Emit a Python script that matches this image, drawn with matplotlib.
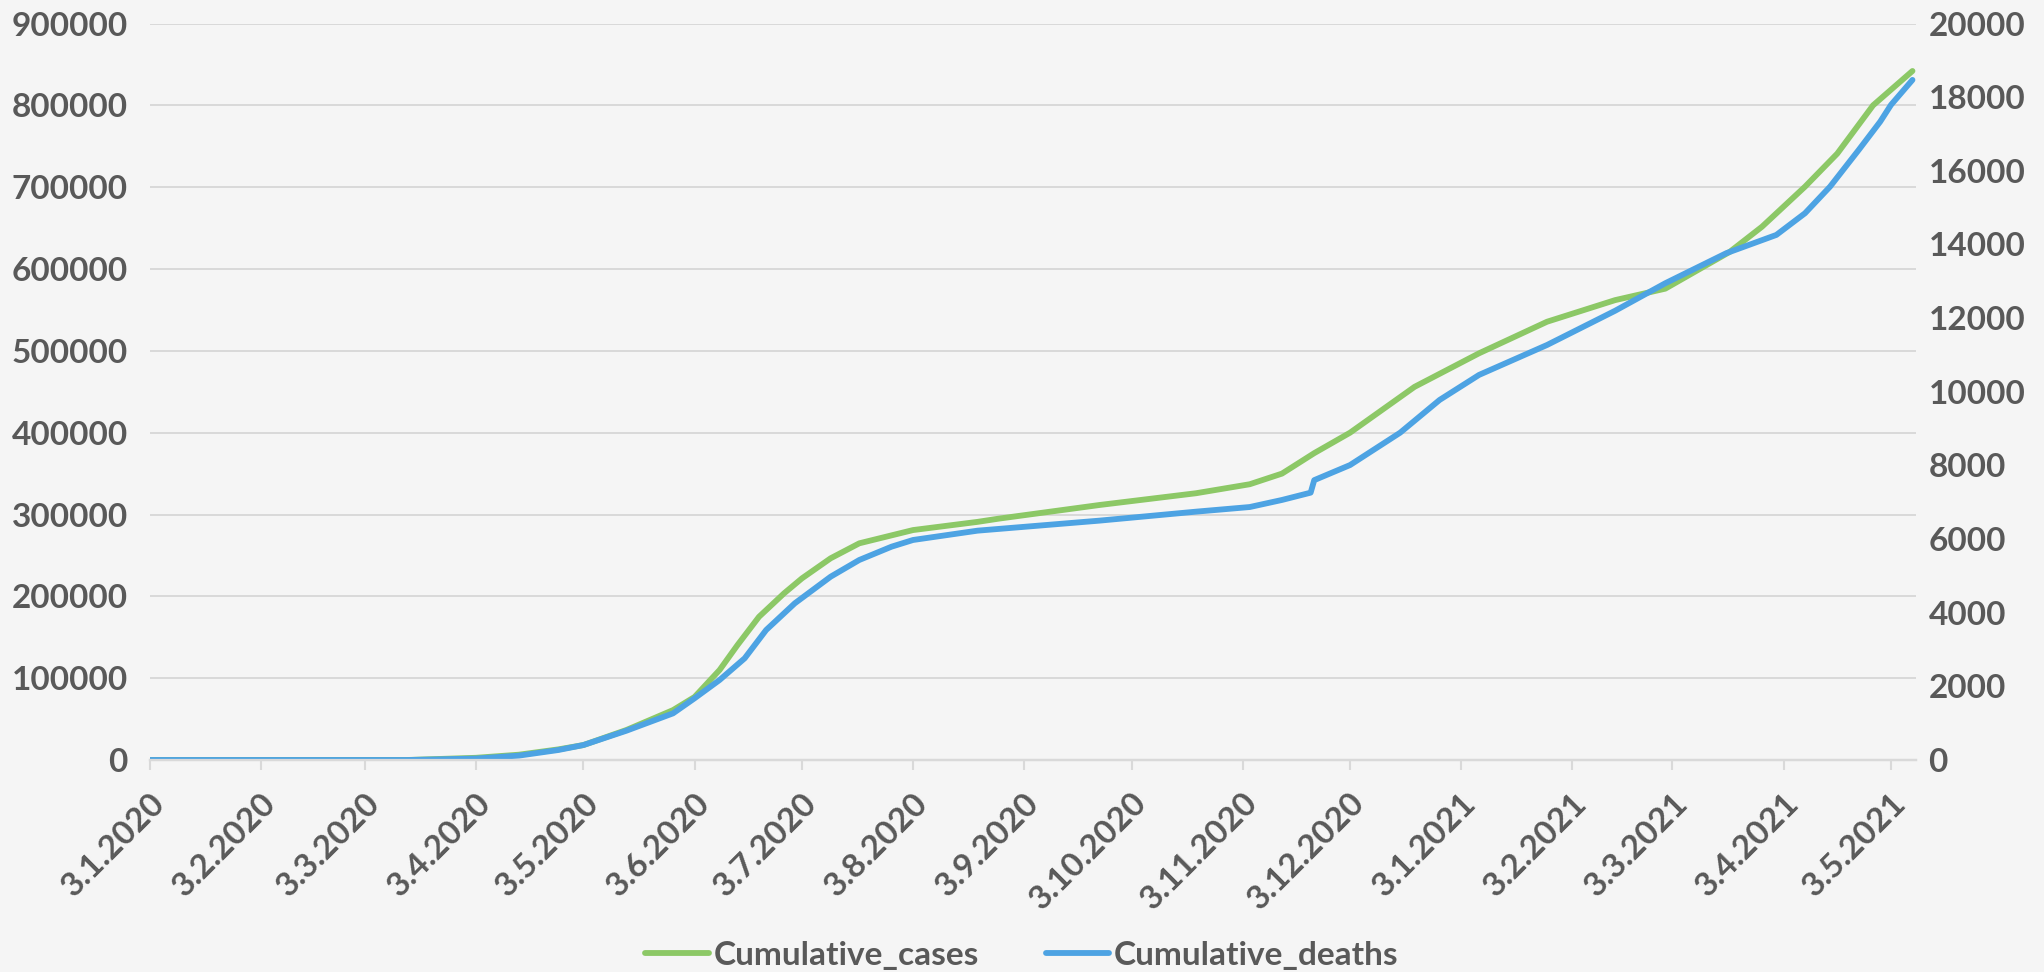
import matplotlib
matplotlib.use("Agg")
import matplotlib.pyplot as plt
import matplotlib.dates as mdates
import pandas as pd

# Data (cases on left axis, deaths on right axis)
case_dates = ["2020-01-03", "2020-03-01", "2020-03-15", "2020-04-03", "2020-04-15",
              "2020-04-26", "2020-05-03", "2020-05-15", "2020-05-28", "2020-06-03",
              "2020-06-10", "2020-06-15", "2020-06-21", "2020-06-28", "2020-07-03",
              "2020-07-11", "2020-07-19", "2020-08-03", "2020-08-21", "2020-08-27",
              "2020-09-24", "2020-10-21", "2020-11-05", "2020-11-14", "2020-11-23",
              "2020-12-03", "2020-12-21", "2021-01-08", "2021-01-27", "2021-02-15",
              "2021-03-01", "2021-03-19", "2021-03-28", "2021-04-09", "2021-04-18",
              "2021-04-28", "2021-05-09"]
cases = [0, 0, 50, 2700, 6500,
         13000, 18300, 36700, 61000, 77000,
         110000, 140500, 175000, 203700, 222000,
         246500, 264800, 281000, 291000, 295000,
         311600, 326000, 337000, 350000, 375000,
         400000, 456000, 497000, 535600, 562000,
         576000, 621000, 651700, 700600, 741000,
         800000, 842000]

death_dates = ["2020-01-03", "2020-03-15", "2020-04-03", "2020-04-15", "2020-04-26",
               "2020-05-03", "2020-05-15", "2020-05-28", "2020-06-03", "2020-06-10",
               "2020-06-17", "2020-06-23", "2020-07-01", "2020-07-11", "2020-07-19",
               "2020-07-28", "2020-08-03", "2020-08-21", "2020-09-24", "2020-10-21",
               "2020-11-05", "2020-11-14", "2020-11-22", "2020-11-23", "2020-12-03",
               "2020-12-17", "2020-12-28", "2021-01-08", "2021-01-27", "2021-02-15",
               "2021-03-01", "2021-03-18", "2021-04-01", "2021-04-09", "2021-04-16",
               "2021-04-24", "2021-04-30", "2021-05-03", "2021-05-09"]
deaths = [0, 0, 40, 120, 272,
          407, 796, 1267, 1675, 2173,
          2762, 3531, 4256, 4978, 5432,
          5793, 5975, 6228, 6500, 6744,
          6870, 7062, 7260, 7600, 8010,
          8890, 9778, 10457, 11271, 12200,
          12947, 13762, 14259, 14848, 15571,
          16568, 17336, 17790, 18469]

# ticks on the 3rd of every month
tick_dates = pd.date_range("2020-01-01", "2021-05-01", freq="MS") + pd.Timedelta(days=2)
left_ticks = list(range(0, 900001, 100000))
right_ticks = list(range(0, 20001, 2000))

text_col = '#595959'
grid_col = '#D9D9D9'
bg = '#F5F5F5'
green = '#8CC866'
blue = '#4DA3E3'

plt.rcParams['font.family'] = ['Lato', 'DejaVu Sans']
plt.rcParams['font.weight'] = 'bold'

fig = plt.figure(figsize=(20.44, 9.72), dpi=100, facecolor=bg)
ax = fig.add_axes([0.0734, 0.2181, 0.864, 0.7577])
ax.set_facecolor(bg)
ax2 = ax.twinx()

l1, = ax.plot(pd.to_datetime(case_dates), cases, color=green, lw=4.2,
              solid_capstyle='round', label='Cumulative_cases')
l2, = ax2.plot(pd.to_datetime(death_dates), deaths, color=blue, lw=4.2,
               solid_capstyle='round', label='Cumulative_deaths')

ax.set_xlim(pd.Timestamp("2020-01-03"), pd.Timestamp("2021-05-10"))
ax.set_ylim(0, 900000)
ax2.set_ylim(0, 20000)
ax.set_yticks(left_ticks)
ax2.set_yticks(right_ticks)
ax.set_yticklabels([str(v) for v in left_ticks])
ax2.set_yticklabels([str(v) for v in right_ticks])

ax.set_xticks(tick_dates)
ax.xaxis.set_major_formatter(mdates.DateFormatter('%-d.%-m.%Y'))
plt.setp(ax.get_xticklabels(), rotation=45, ha='right', va='top',
         rotation_mode='anchor')

ax.grid(axis='y', color=grid_col, lw=1.4)
ax.set_axisbelow(True)
for a in (ax, ax2):
    for s in ('top', 'left', 'right'):
        a.spines[s].set_visible(False)
    a.spines['bottom'].set_color(grid_col)
    a.spines['bottom'].set_linewidth(1.6)

ax.tick_params(axis='y', length=0, labelsize=24, labelcolor=text_col, pad=16)
ax2.tick_params(axis='y', length=0, labelsize=24, labelcolor=text_col, pad=9)
ax.tick_params(axis='x', length=7, width=1.5, color=grid_col, labelsize=24,
               labelcolor=text_col, pad=13)

fig.legend(handles=[l1, l2], loc='lower center', bbox_to_anchor=(0.5, -0.022),
           ncol=2, frameon=False, fontsize=24, labelcolor=text_col,
           handlelength=1.9, handletextpad=0.15, columnspacing=2.0,
           borderaxespad=0.3)

fig.savefig('out.png', dpi=100, facecolor=bg)
